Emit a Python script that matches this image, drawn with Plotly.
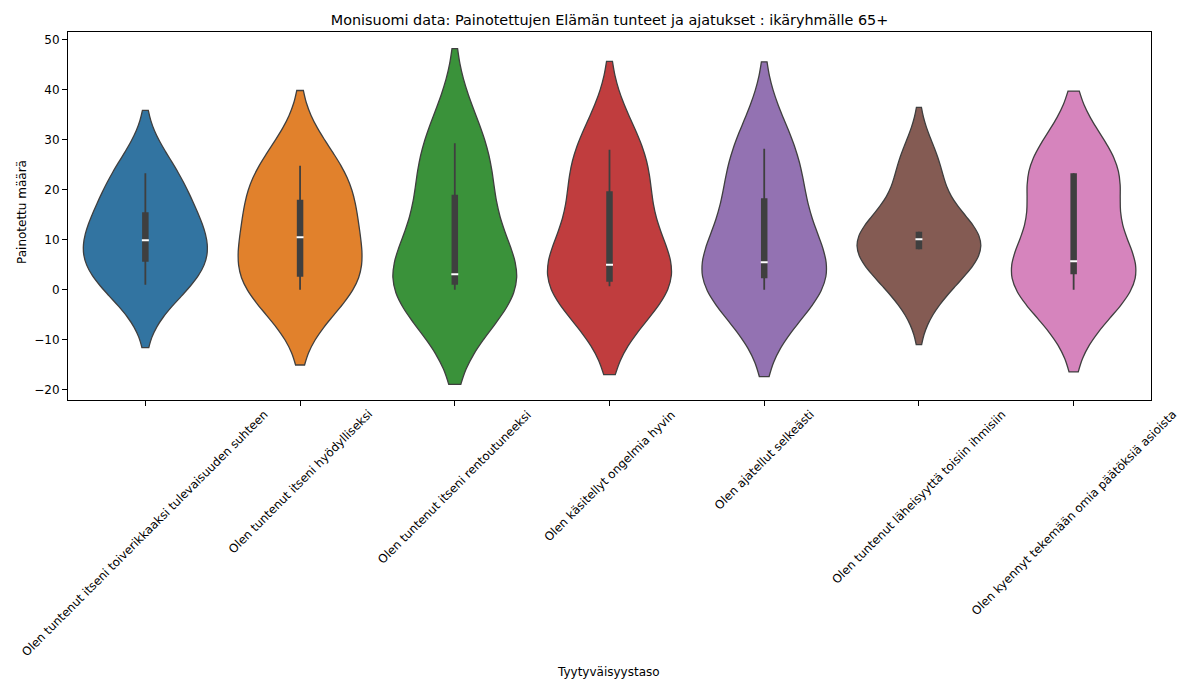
import numpy as np
import plotly.graph_objects as go

# ---- data ----
categories = [
    "Olen tuntenut itseni toiverikkaaksi tulevaisuuden suhteen",
    "Olen tuntenut itseni hyödylliseksi",
    "Olen tuntenut itseni rentoutuneeksi",
    "Olen käsitellyt ongelmia hyvin",
    "Olen ajatellut selkeästi",
    "Olen tuntenut läheisyyttä toisiin ihmisiin",
    "Olen kyennyt tekemään omia päätöksiä asioista",
]
values_1 = [1.0, 5.6, 9.9, 15.5, 23.3]
values_2 = [0.0, 2.6, 10.5, 18.0, 24.8]
values_3 = [0.0, 1.0, 3.1, 19.0, 29.3]
values_4 = [0.7, 1.6, 5.0, 19.7, 28.0]
values_5 = [0.0, 2.3, 5.5, 18.3, 28.2]
values_6 = [1.2, 8.1, 10.1, 11.6, 24.3]
values_7 = [0.0, 3.1, 5.7, 23.3, 23.3]
series = [values_1, values_2, values_3, values_4, values_5, values_6, values_7]
y_ticks = [-20, -10, 0, 10, 20, 30, 40, 50]

title_text = "Monisuomi data: Painotettujen Elämän tunteet ja ajatukset : ikäryhmälle 65+"
x_title = "Tyytyväisyystaso"
y_title = "Painotettu määrä"

colors = ["#3274a1", "#e1812c", "#3a923a", "#c03d3e", "#9372b2", "#845b53", "#d684bd"]
edge = "#3f3f3f"
FONT = "DejaVu Sans"
FS = 12
W, H = 1178, 681
L, R, T, B = 68, 27, 32, 281
PW, PH = W - L - R, H - T - B

fig = go.Figure()
for cat, vals, col in zip(categories, series, colors):
    v = np.asarray(vals, dtype=float)
    n = len(v)
    bw = np.std(v, ddof=1) * n ** (-1 / 5)  # Scott's rule
    fig.add_trace(go.Violin(
        x=[cat] * n, y=v, bandwidth=bw, spanmode="soft",
        scalemode="width", width=0.8, side="both",
        fillcolor=col, line=dict(color=edge, width=1.3), opacity=1,
        points=False, box=dict(visible=False), meanline=dict(visible=False),
        showlegend=False, hoverinfo="y",
    ))
    q1, med, q3 = np.percentile(v, [25, 50, 75])
    iqr = q3 - q1
    lo = v[v >= q1 - 1.5 * iqr].min()
    hi = v[v <= q3 + 1.5 * iqr].max()
    fig.add_trace(go.Scatter(x=[cat, cat], y=[lo, hi], mode="lines",
                             line=dict(color=edge, width=1.8), showlegend=False, hoverinfo="skip"))
    fig.add_trace(go.Scatter(x=[cat, cat], y=[q1, q3], mode="lines",
                             line=dict(color=edge, width=6.5), showlegend=False, hoverinfo="skip"))
    fig.add_trace(go.Scatter(x=[cat], y=[med], mode="markers",
                             marker=dict(symbol="line-ew", size=5, line=dict(color="white", width=2)),
                             showlegend=False, hoverinfo="skip"))

annotations = []
for cat in categories:
    annotations.append(dict(
        x=cat, xref="x", y=0, yref="paper", text=cat, showarrow=False,
        textangle=-45, xanchor="center", yanchor="top", yshift=-6, borderpad=0,
        font=dict(family=FONT, size=11.8, color="black"),
    ))
annotations.append(dict(x=(608 - L) / PW, xref="paper", y=(H - B - 672) / PH, yref="paper",
                        text=x_title, showarrow=False, xanchor="center", yanchor="middle",
                        font=dict(family=FONT, size=FS, color="black")))
annotations.append(dict(x=(22 - L) / PW, xref="paper", y=(H - B - 212) / PH, yref="paper",
                        text=y_title, showarrow=False, textangle=-90, xanchor="center", yanchor="middle",
                        font=dict(family=FONT, size=FS, color="black")))

fig.update_layout(
    width=W, height=H,
    margin=dict(l=L, r=R, t=T, b=B, autoexpand=False),
    paper_bgcolor="white", plot_bgcolor="white",
    font=dict(family=FONT, size=FS, color="black"),
    title=dict(text=title_text, x=609.5 / W, xanchor="center", y=1 - 20 / H, yanchor="middle",
               yref="container", xref="container", font=dict(family=FONT, size=14.4, color="black")),
    annotations=annotations,
    violinmode="overlay",
)
fig.update_xaxes(
    type="category", categoryorder="array", categoryarray=categories,
    range=[-0.5, len(categories) - 0.5], showticklabels=False,
    ticks="outside", ticklen=5, tickwidth=1.1, tickcolor="black",
    showline=True, linecolor="black", linewidth=1.1, mirror=True,
    showgrid=False, zeroline=False, automargin=False,
)
fig.update_yaxes(
    range=[-22.05, 51.55], tickvals=y_ticks, ticktext=[str(t).replace("-", "−") for t in y_ticks],
    ticks="outside", ticklen=5, tickwidth=1.1, tickcolor="black",
    showline=True, linecolor="black", linewidth=1.1, mirror=True,
    showgrid=False, zeroline=False, automargin=False,
    tickfont=dict(family=FONT, size=FS, color="black"),
)

fig.write_html("out.html", config={"displayModeBar": False},
               post_script="document.body.style.margin='0';document.body.style.overflow='hidden';")
